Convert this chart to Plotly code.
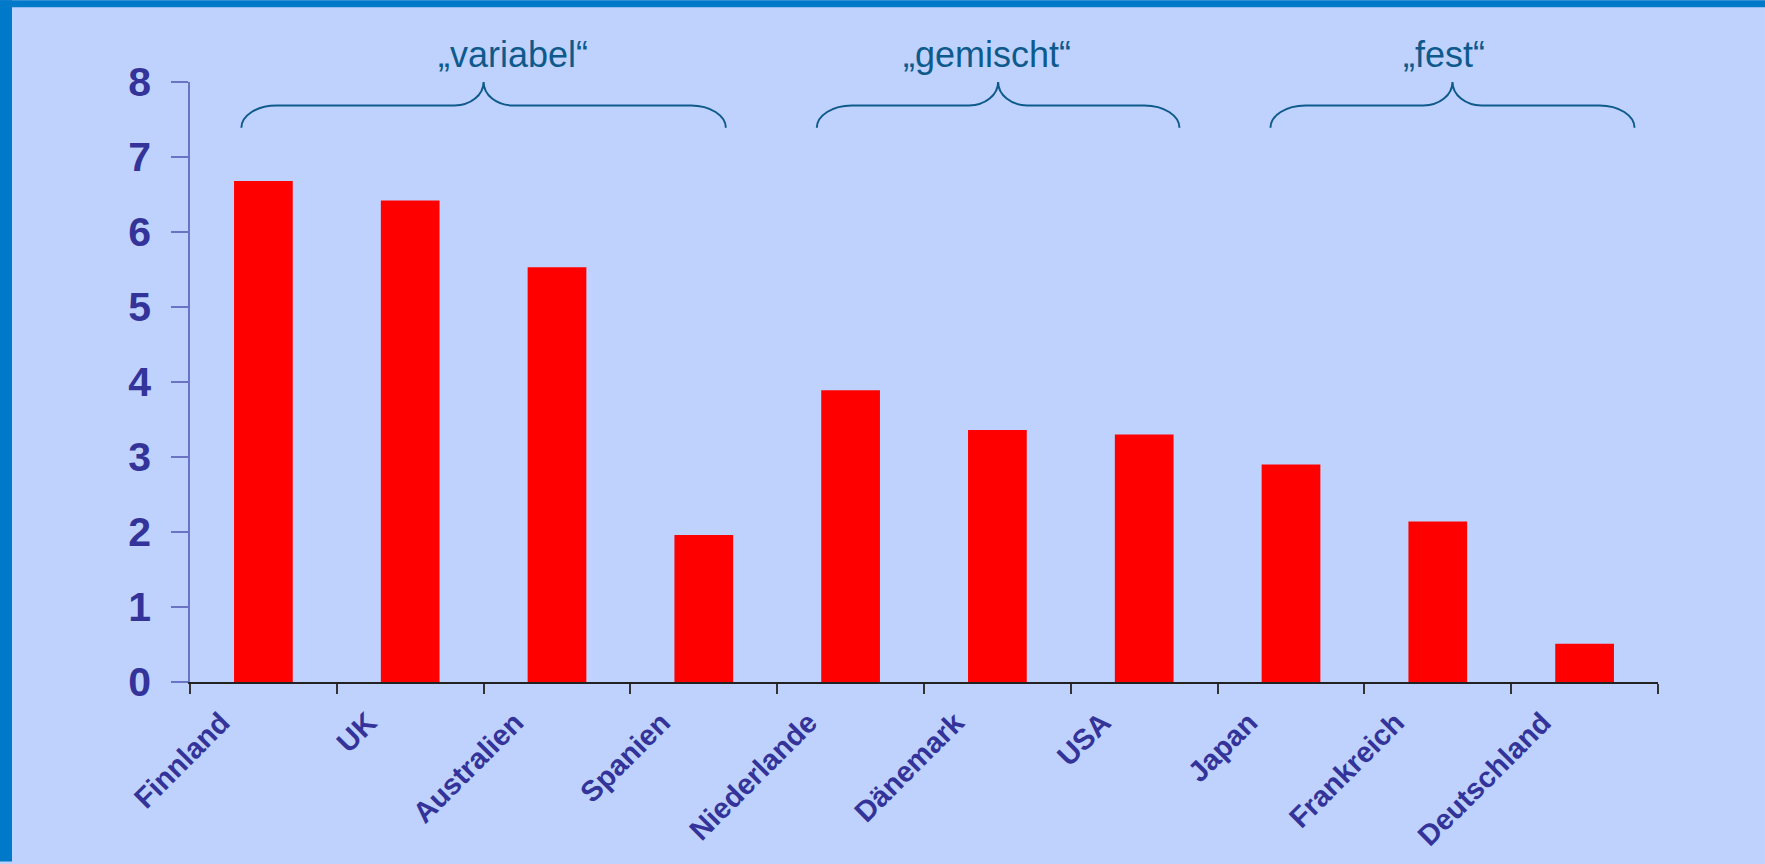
import plotly.graph_objects as go

# ---- data -------------------------------------------------------------
countries = ["Finnland", "UK", "Australien", "Spanien", "Niederlande",
             "Dänemark", "USA", "Japan", "Frankreich", "Deutschland"]
values = [6.68, 6.42, 5.53, 1.96, 3.89, 3.36, 3.30, 2.90, 2.14, 0.51]
y_tick_values = [0, 1, 2, 3, 4, 5, 6, 7, 8]

group_labels = ["„variabel“", "„gemischt“", "„fest“"]

# brace spans and label centres, in category units (0 = first category centre)
brace_start = [-0.15, 3.77, 6.86]
brace_end = [3.15, 6.24, 9.34]
label_centre = [1.70, 4.93, 8.04]

# ---- page geometry (pixels) -------------------------------------------
W, H = 1765, 864
L, R, T, B = 190, 1658, 82, 684

BG = "#BFD2FE"
FRAME = "#0079C8"
TEXT_BLUE = "#333399"
BRACE_BLUE = "#0F5A8C"
FONT = "Liberation Sans, Arial, sans-serif"

n = len(countries)


def cat_to_px(u):
    return L + (u + 0.5) * (R - L) / n


def to_paper(x, y):
    return (x - L) / (R - L), (B - y) / (B - T)


def brace_path(xl, xr, yb=128.0, yh=105.5, ytip=82.0, rx=35.0, cx=29.0):
    k = 0.5523
    xt = (xl + xr) / 2
    segs = [
        ("M", [(xl, yb)]),
        ("C", [(xl, yb - k * (yb - yh)), (xl + rx - k * rx, yh), (xl + rx, yh)]),
        ("L", [(xt - cx, yh)]),
        ("C", [(xt - cx + k * cx, yh), (xt, ytip + k * (yh - ytip)), (xt, ytip)]),
        ("C", [(xt, ytip + k * (yh - ytip)), (xt + cx - k * cx, yh), (xt + cx, yh)]),
        ("L", [(xr - rx, yh)]),
        ("C", [(xr - rx + k * rx, yh), (xr, yb - k * (yb - yh)), (xr, yb)]),
    ]
    out = []
    for cmd, pts in segs:
        coords = " ".join("{:.5f},{:.5f}".format(*to_paper(px, py)) for px, py in pts)
        out.append(cmd + " " + coords)
    return " ".join(out)


fig = go.Figure(
    go.Bar(
        x=countries,
        y=values,
        marker=dict(color="#FF0000", line=dict(width=0)),
        hoverinfo="skip",
    )
)

shapes = []
for s, e in zip(brace_start, brace_end):
    shapes.append(dict(
        type="path", xref="paper", yref="paper",
        path=brace_path(cat_to_px(s), cat_to_px(e)),
        line=dict(color=BRACE_BLUE, width=2),
    ))

# blue frame along the top and left edges of the page
x_left, y_top = to_paper(0, 0)
x_right, y_bottom = to_paper(W, H)
x_frame, _ = to_paper(12, 0)
_, y_frame = to_paper(0, 7)
shapes.append(dict(type="rect", xref="paper", yref="paper",
                   x0=x_left, x1=x_right, y0=y_frame, y1=y_top,
                   fillcolor=FRAME, line=dict(width=0)))
shapes.append(dict(type="rect", xref="paper", yref="paper",
                   x0=x_left, x1=x_frame, y0=y_bottom, y1=y_top,
                   fillcolor=FRAME, line=dict(width=0)))

annotations = []
for text, c in zip(group_labels, label_centre):
    xp, yp = to_paper(cat_to_px(c), 54)
    annotations.append(dict(
        text=text, x=xp, y=yp, xref="paper", yref="paper",
        xanchor="center", yanchor="middle", showarrow=False,
        font=dict(family=FONT, size=36, color=BRACE_BLUE),
    ))

fig.update_layout(
    width=W, height=H,
    margin=dict(l=L, r=W - R, t=T, b=H - B, pad=0),
    paper_bgcolor=BG, plot_bgcolor=BG,
    bargap=0.6,
    showlegend=False,
    shapes=shapes,
    annotations=annotations,
    xaxis=dict(
        type="category",
        range=[-0.5, n - 0.5],
        tickson="boundaries",
        ticks="outside", ticklen=10, tickwidth=1.5, tickcolor="#333333",
        showline=True, linecolor="#222222", linewidth=2,
        showgrid=False, zeroline=False,
        tickangle=-45,
        ticklabelshift=-42,
        ticklabelstandoff=10,
        tickfont=dict(family=FONT, size=29, color=TEXT_BLUE, weight="bold"),
    ),
    yaxis=dict(
        range=[0, 8],
        tickvals=y_tick_values,
        ticks="outside", ticklen=17, tickwidth=1.5, tickcolor="#6B74C4",
        showline=True, linecolor="#6B74C4", linewidth=1.5,
        showgrid=False, zeroline=False,
        ticklabelstandoff=12,
        tickfont=dict(family=FONT, size=41, color=TEXT_BLUE, weight="bold"),
    ),
)

fig.write_html("out.html")
